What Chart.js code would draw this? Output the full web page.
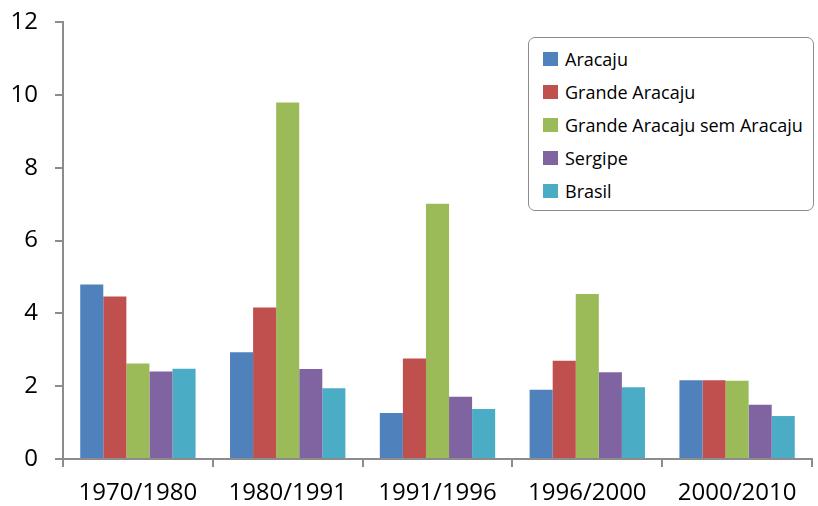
<!DOCTYPE html>
<html>
<head>
<meta charset="utf-8">
<title>Taxa de crescimento</title>
<script src="https://cdn.jsdelivr.net/npm/chart.js"></script>
<style>
  body { margin: 0; background: #fff; }
  #wrap { position: relative; width: 818px; height: 506px; }
  #legend {
    position: absolute; left: 528px; top: 37px; width: 286px; height: 174px;
    border: 1.5px solid #8c8c8c; border-radius: 7px; background: #fff;
    font-family: "Open Sans", sans-serif; font-size: 18px; color: #000;
    box-sizing: border-box; padding-top: 10px;
  }
  .item { position: relative; height: 33px; line-height: 22px; }
  .sw { position: absolute; left: 14px; top: 4px; width: 15px; height: 14px; }
  .lbl { position: absolute; left: 36px; top: 0; white-space: nowrap; }
</style>
</head>
<body>
<div id="wrap">
  <canvas id="myChart" width="818" height="506"></canvas>
  <div id="legend"></div>
</div>
<script>
const periodos = ['1970/1980', '1980/1991', '1991/1996', '1996/2000', '2000/2010'];
const aracaju = [4.79, 2.93, 1.26, 1.90, 2.16];
const grandeAracaju = [4.46, 4.16, 2.76, 2.70, 2.16];
const grandeSemAracaju = [2.62, 9.79, 7.01, 4.53, 2.15];
const sergipe = [2.40, 2.47, 1.71, 2.38, 1.49];
const brasil = [2.48, 1.94, 1.37, 1.97, 1.18];

const eixo = '#8c8c8c';
const ctx = document.getElementById('myChart').getContext('2d');
const chart = new Chart(ctx, {
  type: 'bar',
  data: {
    labels: periodos,
    datasets: [
      { label: 'Aracaju', data: aracaju, backgroundColor: '#4F81BD' },
      { label: 'Grande Aracaju', data: grandeAracaju, backgroundColor: '#C0504D' },
      { label: 'Grande Aracaju sem Aracaju', data: grandeSemAracaju, backgroundColor: '#9BBB59' },
      { label: 'Sergipe', data: sergipe, backgroundColor: '#8064A2' },
      { label: 'Brasil', data: brasil, backgroundColor: '#4BACC6' }
    ]
  },
  options: {
    responsive: false,
    animation: false,
    layout: { padding: { left: 0, right: 6, top: 22, bottom: 0 } },
    datasets: { bar: { categoryPercentage: 0.77, barPercentage: 1 } },
    scales: {
      x: {
        grid: { drawOnChartArea: false, tickLength: 8, color: eixo, lineWidth: 2, offset: true },
        border: { color: eixo, width: 2 },
        ticks: { color: '#000', padding: 12, font: { family: 'Open Sans', size: 24 } },
        afterFit: s => { s.height = 47; s.paddingLeft = 0; s.paddingRight = 0; }
      },
      y: {
        min: 0, max: 12,
        grid: { drawOnChartArea: false, tickLength: 8, color: eixo, lineWidth: 2 },
        border: { color: eixo, width: 2 },
        ticks: { stepSize: 2, color: '#000', padding: 17, font: { family: 'Open Sans', size: 24 } },
        afterFit: s => { s.width = 63; s.paddingTop = 0; s.paddingBottom = 0; }
      }
    },
    plugins: { legend: { display: false }, tooltip: { enabled: false } }
  }
});

const leg = document.getElementById('legend');
chart.data.datasets.forEach(ds => {
  const it = document.createElement('div');
  it.className = 'item';
  it.innerHTML = '<span class="sw" style="background:' + ds.backgroundColor + '"></span><span class="lbl">' + ds.label + '</span>';
  leg.appendChild(it);
});
</script>
</body>
</html>
